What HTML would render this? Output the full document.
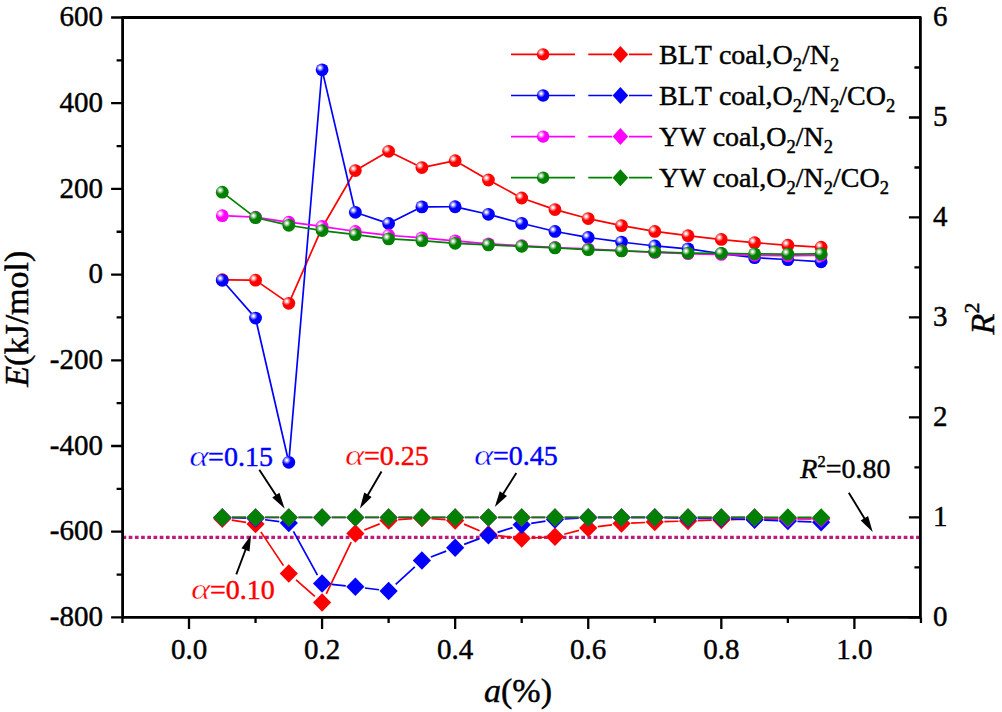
<!DOCTYPE html>
<html><head><meta charset="utf-8"><style>
html,body{margin:0;padding:0;background:#fff;width:1002px;height:712px;overflow:hidden}
svg text{stroke-width:0.45px}
svg{display:block;font-family:"Liberation Serif",serif;font-kerning:none;font-feature-settings:"kern" 0,"liga" 0}
</style></head><body>
<svg xmlns="http://www.w3.org/2000/svg" width="1002" height="712" viewBox="0 0 1002 712" font-family="'Liberation Serif', serif" stroke-linejoin="round"><defs>
<radialGradient id="g_red" cx="0.34" cy="0.34" fx="0.34" fy="0.34" r="0.32"><stop offset="0" stop-color="#fff"/><stop offset="0.15" stop-color="#fff"/><stop offset="1" stop-color="#ff0000"/></radialGradient>
<radialGradient id="g_blue" cx="0.34" cy="0.34" fx="0.34" fy="0.34" r="0.32"><stop offset="0" stop-color="#fff"/><stop offset="0.15" stop-color="#fff"/><stop offset="1" stop-color="#0000ff"/></radialGradient>
<radialGradient id="g_mag" cx="0.34" cy="0.34" fx="0.34" fy="0.34" r="0.32"><stop offset="0" stop-color="#fff"/><stop offset="0.15" stop-color="#fff"/><stop offset="1" stop-color="#ff00ff"/></radialGradient>
<radialGradient id="g_green" cx="0.34" cy="0.34" fx="0.34" fy="0.34" r="0.32"><stop offset="0" stop-color="#fff"/><stop offset="0.15" stop-color="#fff"/><stop offset="1" stop-color="#008000"/></radialGradient>
</defs>
<line x1="122.5" y1="537.41" x2="919.5" y2="537.41" stroke="#bc1a7c" stroke-width="3.1" stroke-dasharray="3.7 2.5"/>
<path d="M228.27 279.82L249.54 280.09M260.47 283.6L283.88 299.88M291.23 297.82L319.66 233.17M325.1 222.49L352.33 175.74M360.54 167.55L383.43 154.29M394.01 153.92L416.5 164.92M427.77 166.35L449.28 161.92M460.35 163.71L483.24 176.98M493.71 182.84L516.42 195.13M527.37 199.95L549.3 207.58M560.76 211.12L582.45 216.99M594.11 219.8L615.64 224.38M627.42 226.65L648.87 230.38M660.73 232.17L682.1 234.93M694.01 236.37L715.36 238.79M727.29 240.04L748.62 242.1M760.57 243.14L781.88 244.79M793.85 245.61L815.14 246.9" stroke="#ff0000" stroke-width="1.7" fill="none"/>
<circle cx="222.27" cy="279.74" r="6.4" fill="url(#g_red)"/>
<circle cx="255.54" cy="280.17" r="6.4" fill="url(#g_red)"/>
<circle cx="288.81" cy="303.31" r="6.4" fill="url(#g_red)"/>
<circle cx="322.08" cy="227.68" r="6.4" fill="url(#g_red)"/>
<circle cx="355.35" cy="170.56" r="6.4" fill="url(#g_red)"/>
<circle cx="388.62" cy="151.28" r="6.4" fill="url(#g_red)"/>
<circle cx="421.89" cy="167.56" r="6.4" fill="url(#g_red)"/>
<circle cx="455.16" cy="160.7" r="6.4" fill="url(#g_red)"/>
<circle cx="488.43" cy="179.99" r="6.4" fill="url(#g_red)"/>
<circle cx="521.7" cy="197.98" r="6.4" fill="url(#g_red)"/>
<circle cx="554.97" cy="209.55" r="6.4" fill="url(#g_red)"/>
<circle cx="588.24" cy="218.55" r="6.4" fill="url(#g_red)"/>
<circle cx="621.51" cy="225.62" r="6.4" fill="url(#g_red)"/>
<circle cx="654.78" cy="231.41" r="6.4" fill="url(#g_red)"/>
<circle cx="688.05" cy="235.69" r="6.4" fill="url(#g_red)"/>
<circle cx="721.32" cy="239.46" r="6.4" fill="url(#g_red)"/>
<circle cx="754.59" cy="242.68" r="6.4" fill="url(#g_red)"/>
<circle cx="787.86" cy="245.25" r="6.4" fill="url(#g_red)"/>
<circle cx="821.13" cy="247.26" r="6.4" fill="url(#g_red)"/>
<path d="M226.23 284.8L251.58 313.59M256.89 323.94L287.46 456.44M289.32 456.3L321.57 75.76M323.44 75.62L353.99 206.45M361.04 214.21L382.93 221.6M393.99 220.84L416.52 209.58M427.89 206.87L449.16 206.76M461.01 208.06L482.58 212.98M494.22 215.88L515.91 221.78M527.53 224.76L549.14 230M560.87 232.47L582.34 236.34M594.18 238.23L615.57 241.21M627.47 242.73L648.82 245.23M660.76 246.46L682.07 248.32M693.99 249.7L715.38 252.75M727.28 254.33L748.63 256.95M760.58 258.02L781.87 259.26M793.85 259.99L815.14 261.36" stroke="#0000ff" stroke-width="1.7" fill="none"/>
<circle cx="222.27" cy="280.3" r="6.4" fill="url(#g_blue)"/>
<circle cx="255.54" cy="318.09" r="6.4" fill="url(#g_blue)"/>
<circle cx="288.81" cy="462.28" r="6.4" fill="url(#g_blue)"/>
<circle cx="322.08" cy="69.78" r="6.4" fill="url(#g_blue)"/>
<circle cx="355.35" cy="212.3" r="6.4" fill="url(#g_blue)"/>
<circle cx="388.62" cy="223.52" r="6.4" fill="url(#g_blue)"/>
<circle cx="421.89" cy="206.9" r="6.4" fill="url(#g_blue)"/>
<circle cx="455.16" cy="206.73" r="6.4" fill="url(#g_blue)"/>
<circle cx="488.43" cy="214.31" r="6.4" fill="url(#g_blue)"/>
<circle cx="521.7" cy="223.35" r="6.4" fill="url(#g_blue)"/>
<circle cx="554.97" cy="231.41" r="6.4" fill="url(#g_blue)"/>
<circle cx="588.24" cy="237.41" r="6.4" fill="url(#g_blue)"/>
<circle cx="621.51" cy="242.03" r="6.4" fill="url(#g_blue)"/>
<circle cx="654.78" cy="245.93" r="6.4" fill="url(#g_blue)"/>
<circle cx="688.05" cy="248.85" r="6.4" fill="url(#g_blue)"/>
<circle cx="721.32" cy="253.6" r="6.4" fill="url(#g_blue)"/>
<circle cx="754.59" cy="257.67" r="6.4" fill="url(#g_blue)"/>
<circle cx="787.86" cy="259.6" r="6.4" fill="url(#g_blue)"/>
<circle cx="821.13" cy="261.75" r="6.4" fill="url(#g_blue)"/>
<path d="M228.26 215.95L249.55 216.91M261.47 218.08L282.88 221.3M294.76 222.95L316.13 225.64M328.01 227.29L349.42 230.51M361.31 232.1L382.66 234.57M394.6 235.73L415.91 237.37M427.87 238.37L449.18 240.3M461.14 241.37L482.45 243.29M494.42 244.18L515.71 245.41M527.69 246.07L548.98 247.17M560.96 247.75L582.25 248.71M594.23 249.28L615.52 250.38M627.5 251L648.79 252.1M660.78 252.64L682.05 253.46M694.05 253.83L715.32 254.32M727.32 254.62L748.59 255.16M760.59 255.39L781.86 255.67M793.86 255.67L815.13 255.39" stroke="#ff00ff" stroke-width="1.7" fill="none"/>
<circle cx="222.27" cy="215.68" r="6.4" fill="url(#g_mag)"/>
<circle cx="255.54" cy="217.18" r="6.4" fill="url(#g_mag)"/>
<circle cx="288.81" cy="222.19" r="6.4" fill="url(#g_mag)"/>
<circle cx="322.08" cy="226.39" r="6.4" fill="url(#g_mag)"/>
<circle cx="355.35" cy="231.41" r="6.4" fill="url(#g_mag)"/>
<circle cx="388.62" cy="235.26" r="6.4" fill="url(#g_mag)"/>
<circle cx="421.89" cy="237.83" r="6.4" fill="url(#g_mag)"/>
<circle cx="455.16" cy="240.83" r="6.4" fill="url(#g_mag)"/>
<circle cx="488.43" cy="243.83" r="6.4" fill="url(#g_mag)"/>
<circle cx="521.7" cy="245.76" r="6.4" fill="url(#g_mag)"/>
<circle cx="554.97" cy="247.48" r="6.4" fill="url(#g_mag)"/>
<circle cx="588.24" cy="248.98" r="6.4" fill="url(#g_mag)"/>
<circle cx="621.51" cy="250.69" r="6.4" fill="url(#g_mag)"/>
<circle cx="654.78" cy="252.4" r="6.4" fill="url(#g_mag)"/>
<circle cx="688.05" cy="253.69" r="6.4" fill="url(#g_mag)"/>
<circle cx="721.32" cy="254.46" r="6.4" fill="url(#g_mag)"/>
<circle cx="754.59" cy="255.32" r="6.4" fill="url(#g_mag)"/>
<circle cx="787.86" cy="255.75" r="6.4" fill="url(#g_mag)"/>
<circle cx="821.13" cy="255.32" r="6.4" fill="url(#g_mag)"/>
<path d="M227.03 195.85L250.78 214.05M261.39 219.03L282.96 223.95M294.74 226.22L316.15 229.61M328.03 231.29L349.4 233.96M361.3 235.45L382.67 238.12M394.61 239.19L415.9 240.37M427.87 241.18L449.18 242.85M461.15 243.61L482.44 244.62M494.42 245.16L515.71 246.06M527.69 246.6L548.98 247.62M560.96 248.23L582.25 249.38M594.24 249.92L615.51 250.69M627.51 251.09L648.78 251.75M660.78 252.13L682.05 252.85M694.05 253.09L715.32 253.26M727.32 253.4L748.59 253.73M760.59 253.86L781.86 254.03M793.86 254.03L815.13 253.86" stroke="#008000" stroke-width="1.7" fill="none"/>
<circle cx="222.27" cy="192.2" r="6.4" fill="url(#g_green)"/>
<circle cx="255.54" cy="217.7" r="6.4" fill="url(#g_green)"/>
<circle cx="288.81" cy="225.28" r="6.4" fill="url(#g_green)"/>
<circle cx="322.08" cy="230.55" r="6.4" fill="url(#g_green)"/>
<circle cx="355.35" cy="234.71" r="6.4" fill="url(#g_green)"/>
<circle cx="388.62" cy="238.86" r="6.4" fill="url(#g_green)"/>
<circle cx="421.89" cy="240.71" r="6.4" fill="url(#g_green)"/>
<circle cx="455.16" cy="243.32" r="6.4" fill="url(#g_green)"/>
<circle cx="488.43" cy="244.9" r="6.4" fill="url(#g_green)"/>
<circle cx="521.7" cy="246.32" r="6.4" fill="url(#g_green)"/>
<circle cx="554.97" cy="247.9" r="6.4" fill="url(#g_green)"/>
<circle cx="588.24" cy="249.7" r="6.4" fill="url(#g_green)"/>
<circle cx="621.51" cy="250.9" r="6.4" fill="url(#g_green)"/>
<circle cx="654.78" cy="251.93" r="6.4" fill="url(#g_green)"/>
<circle cx="688.05" cy="253.05" r="6.4" fill="url(#g_green)"/>
<circle cx="721.32" cy="253.3" r="6.4" fill="url(#g_green)"/>
<circle cx="754.59" cy="253.82" r="6.4" fill="url(#g_green)"/>
<circle cx="787.86" cy="254.07" r="6.4" fill="url(#g_green)"/>
<circle cx="821.13" cy="253.82" r="6.4" fill="url(#g_green)"/>
<path d="M231.75 520.2L246.06 522.43M260.88 531.89L283.47 565.63M296.05 579.91L314.84 596.3M326.24 593.95L351.19 542.07M364.29 529.92L379.68 523.91M398.19 519.7L412.32 518.64M431.46 518.64L445.59 519.7M464.01 524.14L479.58 530.69M497.96 535.59L512.17 537.34M531.29 537.99L545.38 537.23M564.25 534.26L578.96 530.37M597.76 526.68L611.99 524.85M631.1 523.15L645.19 522.48M664.37 521.7L678.46 521.23M697.65 520.63L711.72 520.2M730.92 519.63L744.99 519.2M764.19 518.92L778.26 518.92M797.46 518.92L811.53 518.92" stroke="#ff0000" stroke-width="1.7" fill="none"/>
<path d="M222.27 509.47L231.37 518.72L222.27 527.97L213.17 518.72Z" fill="#ff0000"/>
<path d="M255.54 514.67L264.64 523.92L255.54 533.17L246.44 523.92Z" fill="#ff0000"/>
<path d="M288.81 564.36L297.91 573.61L288.81 582.86L279.71 573.61Z" fill="#ff0000"/>
<path d="M322.08 593.35L331.18 602.6L322.08 611.85L312.98 602.6Z" fill="#ff0000"/>
<path d="M355.35 524.16L364.45 533.41L355.35 542.66L346.25 533.41Z" fill="#ff0000"/>
<path d="M388.62 511.17L397.72 520.42L388.62 529.67L379.52 520.42Z" fill="#ff0000"/>
<path d="M421.89 508.67L430.99 517.92L421.89 527.17L412.79 517.92Z" fill="#ff0000"/>
<path d="M455.16 511.17L464.26 520.42L455.16 529.67L446.06 520.42Z" fill="#ff0000"/>
<path d="M488.43 525.16L497.53 534.41L488.43 543.66L479.33 534.41Z" fill="#ff0000"/>
<path d="M521.7 529.26L530.8 538.51L521.7 547.76L512.6 538.51Z" fill="#ff0000"/>
<path d="M554.97 527.46L564.07 536.71L554.97 545.96L545.87 536.71Z" fill="#ff0000"/>
<path d="M588.24 518.66L597.34 527.91L588.24 537.16L579.14 527.91Z" fill="#ff0000"/>
<path d="M621.51 514.37L630.61 523.62L621.51 532.87L612.41 523.62Z" fill="#ff0000"/>
<path d="M654.78 512.77L663.88 522.02L654.78 531.27L645.68 522.02Z" fill="#ff0000"/>
<path d="M688.05 511.67L697.15 520.92L688.05 530.17L678.95 520.92Z" fill="#ff0000"/>
<path d="M721.32 510.67L730.42 519.92L721.32 529.17L712.22 519.92Z" fill="#ff0000"/>
<path d="M754.59 509.67L763.69 518.92L754.59 528.17L745.49 518.92Z" fill="#ff0000"/>
<path d="M787.86 509.67L796.96 518.92L787.86 528.17L778.76 518.92Z" fill="#ff0000"/>
<path d="M821.13 509.67L830.23 518.92L821.13 528.17L812.03 518.92Z" fill="#ff0000"/>
<path d="M231.87 517.71L245.94 518.13M265.05 519.73L279.3 521.7M293.44 531.43L317.45 575.09M331.63 584.45L345.8 585.86M364.88 587.98L379.09 589.73M395.7 584.42L414.81 566.9M430.86 556.99L446.19 551.13M464.15 544.34L479.44 538.59M497.59 532.35L512.54 527.68M531.18 523.33L545.49 521.1M564.55 518.98L578.66 518.05M597.84 517.42L611.91 517.42M631.11 517.42L645.18 517.42M664.38 517.71L678.45 518.13M697.65 518.42L711.72 518.42M730.91 518.79L745 519.34M764.18 520.12L778.27 520.71M797.45 521.46L811.54 521.97" stroke="#0000ff" stroke-width="1.7" fill="none"/>
<path d="M222.27 508.17L231.37 517.42L222.27 526.67L213.17 517.42Z" fill="#0000ff"/>
<path d="M255.54 509.17L264.64 518.42L255.54 527.67L246.44 518.42Z" fill="#0000ff"/>
<path d="M288.81 513.77L297.91 523.02L288.81 532.27L279.71 523.02Z" fill="#0000ff"/>
<path d="M322.08 574.26L331.18 583.51L322.08 592.76L312.98 583.51Z" fill="#0000ff"/>
<path d="M355.35 577.56L364.45 586.81L355.35 596.06L346.25 586.81Z" fill="#0000ff"/>
<path d="M388.62 581.65L397.72 590.9L388.62 600.15L379.52 590.9Z" fill="#0000ff"/>
<path d="M421.89 551.16L430.99 560.41L421.89 569.66L412.79 560.41Z" fill="#0000ff"/>
<path d="M455.16 538.46L464.26 547.71L455.16 556.96L446.06 547.71Z" fill="#0000ff"/>
<path d="M488.43 525.96L497.53 535.21L488.43 544.46L479.33 535.21Z" fill="#0000ff"/>
<path d="M521.7 515.57L530.8 524.82L521.7 534.07L512.6 524.82Z" fill="#0000ff"/>
<path d="M554.97 510.37L564.07 519.62L554.97 528.87L545.87 519.62Z" fill="#0000ff"/>
<path d="M588.24 508.17L597.34 517.42L588.24 526.67L579.14 517.42Z" fill="#0000ff"/>
<path d="M621.51 508.17L630.61 517.42L621.51 526.67L612.41 517.42Z" fill="#0000ff"/>
<path d="M654.78 508.17L663.88 517.42L654.78 526.67L645.68 517.42Z" fill="#0000ff"/>
<path d="M688.05 509.17L697.15 518.42L688.05 527.67L678.95 518.42Z" fill="#0000ff"/>
<path d="M721.32 509.17L730.42 518.42L721.32 527.67L712.22 518.42Z" fill="#0000ff"/>
<path d="M754.59 510.47L763.69 519.72L754.59 528.97L745.49 519.72Z" fill="#0000ff"/>
<path d="M787.86 511.87L796.96 521.12L787.86 530.37L778.76 521.12Z" fill="#0000ff"/>
<path d="M821.13 513.07L830.23 522.32L821.13 531.57L812.03 522.32Z" fill="#0000ff"/>
<path d="M231.87 517.42L245.94 517.42M265.14 517.42L279.21 517.42M298.41 517.42L312.48 517.42M331.68 517.42L345.75 517.42M364.95 517.42L379.02 517.42M398.22 517.42L412.29 517.42M431.49 517.42L445.56 517.42M464.76 517.42L478.83 517.42M498.03 517.42L512.1 517.42M531.3 517.42L545.37 517.42M564.57 517.42L578.64 517.42M597.84 517.42L611.91 517.42M631.11 517.42L645.18 517.42M664.38 517.42L678.45 517.42M697.65 517.42L711.72 517.42M730.92 517.42L744.99 517.42M764.19 517.71L778.26 518.13M797.46 518.42L811.53 518.42" stroke="#ff00ff" stroke-width="1.7" fill="none"/>
<path d="M222.27 508.17L231.37 517.42L222.27 526.67L213.17 517.42Z" fill="#ff00ff"/>
<path d="M255.54 508.17L264.64 517.42L255.54 526.67L246.44 517.42Z" fill="#ff00ff"/>
<path d="M288.81 508.17L297.91 517.42L288.81 526.67L279.71 517.42Z" fill="#ff00ff"/>
<path d="M322.08 508.17L331.18 517.42L322.08 526.67L312.98 517.42Z" fill="#ff00ff"/>
<path d="M355.35 508.17L364.45 517.42L355.35 526.67L346.25 517.42Z" fill="#ff00ff"/>
<path d="M388.62 508.17L397.72 517.42L388.62 526.67L379.52 517.42Z" fill="#ff00ff"/>
<path d="M421.89 508.17L430.99 517.42L421.89 526.67L412.79 517.42Z" fill="#ff00ff"/>
<path d="M455.16 508.17L464.26 517.42L455.16 526.67L446.06 517.42Z" fill="#ff00ff"/>
<path d="M488.43 508.17L497.53 517.42L488.43 526.67L479.33 517.42Z" fill="#ff00ff"/>
<path d="M521.7 508.17L530.8 517.42L521.7 526.67L512.6 517.42Z" fill="#ff00ff"/>
<path d="M554.97 508.17L564.07 517.42L554.97 526.67L545.87 517.42Z" fill="#ff00ff"/>
<path d="M588.24 508.17L597.34 517.42L588.24 526.67L579.14 517.42Z" fill="#ff00ff"/>
<path d="M621.51 508.17L630.61 517.42L621.51 526.67L612.41 517.42Z" fill="#ff00ff"/>
<path d="M654.78 508.17L663.88 517.42L654.78 526.67L645.68 517.42Z" fill="#ff00ff"/>
<path d="M688.05 508.17L697.15 517.42L688.05 526.67L678.95 517.42Z" fill="#ff00ff"/>
<path d="M721.32 508.17L730.42 517.42L721.32 526.67L712.22 517.42Z" fill="#ff00ff"/>
<path d="M754.59 508.17L763.69 517.42L754.59 526.67L745.49 517.42Z" fill="#ff00ff"/>
<path d="M787.86 509.17L796.96 518.42L787.86 527.67L778.76 518.42Z" fill="#ff00ff"/>
<path d="M821.13 509.17L830.23 518.42L821.13 527.67L812.03 518.42Z" fill="#ff00ff"/>
<path d="M231.87 517.42L245.94 517.42M265.14 517.42L279.21 517.42M298.41 517.42L312.48 517.42M331.68 517.42L345.75 517.42M364.95 517.42L379.02 517.42M398.22 517.42L412.29 517.42M431.49 517.42L445.56 517.42M464.76 517.42L478.83 517.42M498.03 517.42L512.1 517.42M531.3 517.42L545.37 517.42M564.57 517.42L578.64 517.42M597.84 517.42L611.91 517.42M631.11 517.42L645.18 517.42M664.38 517.42L678.45 517.42M697.65 517.42L711.72 517.42M730.92 517.42L744.99 517.42M764.19 517.42L778.26 517.42M797.46 517.42L811.53 517.42" stroke="#008000" stroke-width="1.7" fill="none"/>
<path d="M222.27 508.17L231.37 517.42L222.27 526.67L213.17 517.42Z" fill="#008000"/>
<path d="M255.54 508.17L264.64 517.42L255.54 526.67L246.44 517.42Z" fill="#008000"/>
<path d="M288.81 508.17L297.91 517.42L288.81 526.67L279.71 517.42Z" fill="#008000"/>
<path d="M322.08 508.17L331.18 517.42L322.08 526.67L312.98 517.42Z" fill="#008000"/>
<path d="M355.35 508.17L364.45 517.42L355.35 526.67L346.25 517.42Z" fill="#008000"/>
<path d="M388.62 508.17L397.72 517.42L388.62 526.67L379.52 517.42Z" fill="#008000"/>
<path d="M421.89 508.17L430.99 517.42L421.89 526.67L412.79 517.42Z" fill="#008000"/>
<path d="M455.16 508.17L464.26 517.42L455.16 526.67L446.06 517.42Z" fill="#008000"/>
<path d="M488.43 508.17L497.53 517.42L488.43 526.67L479.33 517.42Z" fill="#008000"/>
<path d="M521.7 508.17L530.8 517.42L521.7 526.67L512.6 517.42Z" fill="#008000"/>
<path d="M554.97 508.17L564.07 517.42L554.97 526.67L545.87 517.42Z" fill="#008000"/>
<path d="M588.24 508.17L597.34 517.42L588.24 526.67L579.14 517.42Z" fill="#008000"/>
<path d="M621.51 508.17L630.61 517.42L621.51 526.67L612.41 517.42Z" fill="#008000"/>
<path d="M654.78 508.17L663.88 517.42L654.78 526.67L645.68 517.42Z" fill="#008000"/>
<path d="M688.05 508.17L697.15 517.42L688.05 526.67L678.95 517.42Z" fill="#008000"/>
<path d="M721.32 508.17L730.42 517.42L721.32 526.67L712.22 517.42Z" fill="#008000"/>
<path d="M754.59 508.17L763.69 517.42L754.59 526.67L745.49 517.42Z" fill="#008000"/>
<path d="M787.86 508.17L796.96 517.42L787.86 526.67L778.76 517.42Z" fill="#008000"/>
<path d="M821.13 508.17L830.23 517.42L821.13 526.67L812.03 517.42Z" fill="#008000"/>
<g stroke="#000" fill="none">
<path d="M122.6 17.5 V617.4 H920.4 V17.5 Z" stroke-width="2.8"/>
<path d="M111.1 617.4H122.6M116.6 574.55H122.6M111.1 531.7H122.6M116.6 488.85H122.6M111.1 446H122.6M116.6 403.15H122.6M111.1 360.3H122.6M116.6 317.45H122.6M111.1 274.6H122.6M116.6 231.75H122.6M111.1 188.9H122.6M116.6 146.05H122.6M111.1 103.2H122.6M116.6 60.35H122.6M111.1 17.5H122.6M920.4 617.4H908.9M920.4 567.41H914.4M920.4 517.42H908.9M920.4 467.42H914.4M920.4 417.43H908.9M920.4 367.44H914.4M920.4 317.45H908.9M920.4 267.46H914.4M920.4 217.47H908.9M920.4 167.48H914.4M920.4 117.48H908.9M920.4 67.49H914.4M920.4 17.5H908.9M122.46 617.4V622.9M189 617.4V628.9M255.54 617.4V622.9M322.08 617.4V628.9M388.62 617.4V622.9M455.16 617.4V628.9M521.7 617.4V622.9M588.24 617.4V628.9M654.78 617.4V622.9M721.32 617.4V628.9M787.86 617.4V622.9M854.4 617.4V628.9M920.94 617.4V622.9" stroke-width="2.3"/>
</g>
<g font-size="29" stroke="#000"><text x="103" y="626.1" text-anchor="end">-800</text><text x="103" y="540.4" text-anchor="end">-600</text><text x="103" y="454.7" text-anchor="end">-400</text><text x="103" y="369" text-anchor="end">-200</text><text x="103" y="283.3" text-anchor="end">0</text><text x="103" y="197.6" text-anchor="end">200</text><text x="103" y="111.9" text-anchor="end">400</text><text x="103" y="26.2" text-anchor="end">600</text><text x="933" y="626.1">0</text><text x="933" y="526.12">1</text><text x="933" y="426.13">2</text><text x="933" y="326.15">3</text><text x="933" y="226.17">4</text><text x="933" y="126.18">5</text><text x="933" y="26.2">6</text><text x="189" y="659" text-anchor="middle">0.0</text><text x="322.08" y="659" text-anchor="middle">0.2</text><text x="455.16" y="659" text-anchor="middle">0.4</text><text x="588.24" y="659" text-anchor="middle">0.6</text><text x="721.32" y="659" text-anchor="middle">0.8</text><text x="854.4" y="659" text-anchor="middle">1.0</text></g>
<text transform="translate(27.7 318.7) rotate(-90)" text-anchor="middle" font-size="34" stroke="#000"><tspan font-style="italic">E</tspan>(kJ/mol)</text>
<text transform="translate(993.5 318.5) rotate(-90)" text-anchor="middle" font-size="34" stroke="#000"><tspan font-style="italic">R</tspan><tspan font-size="22" dy="-14.5">2</tspan></text>
<text x="518" y="701.8" text-anchor="middle" font-size="34" stroke="#000"><tspan font-style="italic">a</tspan>(%)</text>
<path d="M511 54.4H575M588.3 54.4H612.2M629 54.4H652.2" stroke="#ff0000" stroke-width="1.7"/>
<circle cx="543.1" cy="54.4" r="6.2" fill="url(#g_red)"/>
<path d="M620.4 45.9L628.2 54.4L620.4 62.9L612.6 54.4Z" fill="#ff0000"/>
<text x="659" y="63.9" font-size="28" stroke="#000">BLT coal,O<tspan font-size="18.5" dy="7">2</tspan><tspan dy="-7">/N</tspan><tspan font-size="18.5" dy="7">2</tspan></text>
<path d="M511 95.5H575M588.3 95.5H612.2M629 95.5H652.2" stroke="#0000ff" stroke-width="1.7"/>
<circle cx="543.1" cy="95.5" r="6.2" fill="url(#g_blue)"/>
<path d="M620.4 87L628.2 95.5L620.4 104L612.6 95.5Z" fill="#0000ff"/>
<text x="659" y="105" font-size="28" stroke="#000">BLT coal,O<tspan font-size="18.5" dy="7">2</tspan><tspan dy="-7">/N</tspan><tspan font-size="18.5" dy="7">2</tspan><tspan dy="-7">/CO</tspan><tspan font-size="18.5" dy="7">2</tspan></text>
<path d="M511 136.6H575M588.3 136.6H612.2M629 136.6H652.2" stroke="#ff00ff" stroke-width="1.7"/>
<circle cx="543.1" cy="136.6" r="6.2" fill="url(#g_mag)"/>
<path d="M620.4 128.1L628.2 136.6L620.4 145.1L612.6 136.6Z" fill="#ff00ff"/>
<text x="659" y="146.1" font-size="28" stroke="#000">YW coal,O<tspan font-size="18.5" dy="7">2</tspan><tspan dy="-7">/N</tspan><tspan font-size="18.5" dy="7">2</tspan></text>
<path d="M511 177.7H575M588.3 177.7H612.2M629 177.7H652.2" stroke="#008000" stroke-width="1.7"/>
<circle cx="543.1" cy="177.7" r="6.2" fill="url(#g_green)"/>
<path d="M620.4 169.2L628.2 177.7L620.4 186.2L612.6 177.7Z" fill="#008000"/>
<text x="659" y="187.2" font-size="28" stroke="#000">YW coal,O<tspan font-size="18.5" dy="7">2</tspan><tspan dy="-7">/N</tspan><tspan font-size="18.5" dy="7">2</tspan><tspan dy="-7">/CO</tspan><tspan font-size="18.5" dy="7">2</tspan></text>
<text transform="translate(189.2 466) scale(1.24 1)" font-size="30" font-style="italic" fill="#0000ff" stroke="#fff" style="stroke-width:0.45px">&#945;</text><text x="208.1" y="466" font-size="28" fill="#0000ff" stroke="#0000ff">=0.15</text>
<text transform="translate(345 465.2) scale(1.24 1)" font-size="30" font-style="italic" fill="#ff0000" stroke="#fff" style="stroke-width:0.45px">&#945;</text><text x="363.9" y="465.2" font-size="28" fill="#ff0000" stroke="#ff0000">=0.25</text>
<text transform="translate(474.1 465.2) scale(1.24 1)" font-size="30" font-style="italic" fill="#0000ff" stroke="#fff" style="stroke-width:0.45px">&#945;</text><text x="493" y="465.2" font-size="28" fill="#0000ff" stroke="#0000ff">=0.45</text>
<text transform="translate(191 599.4) scale(1.24 1)" font-size="30" font-style="italic" fill="#ff0000" stroke="#fff" style="stroke-width:0.45px">&#945;</text><text x="209.9" y="599.4" font-size="28" fill="#ff0000" stroke="#ff0000">=0.10</text>
<text x="800.3" y="478" font-size="28" stroke="#000"><tspan font-style="italic">R</tspan><tspan font-size="16.5" dy="-11.5">2</tspan><tspan dy="11.5">=0.80</tspan></text>
<line x1="259.3" y1="469.7" x2="276.95" y2="496.77" stroke="#000" stroke-width="1.9"/><path d="M284.6 508.5L272.26 497.45L279.46 492.75Z" fill="#000"/>
<line x1="381.5" y1="471.4" x2="366.93" y2="496.49" stroke="#000" stroke-width="1.9"/><path d="M359.9 508.6L364.22 492.6L371.65 496.92Z" fill="#000"/>
<line x1="516.3" y1="473.1" x2="502.28" y2="495.27" stroke="#000" stroke-width="1.9"/><path d="M494.8 507.1L499.72 491.28L506.99 495.88Z" fill="#000"/>
<line x1="236.3" y1="574.4" x2="246.19" y2="548.01" stroke="#000" stroke-width="1.9"/><path d="M251.1 534.9L249.51 551.39L241.46 548.37Z" fill="#000"/>
<line x1="848.8" y1="492.7" x2="865.43" y2="520.04" stroke="#000" stroke-width="1.9"/><path d="M872.7 532L860.71 520.56L868.06 516.1Z" fill="#000"/></svg>
</body></html>
